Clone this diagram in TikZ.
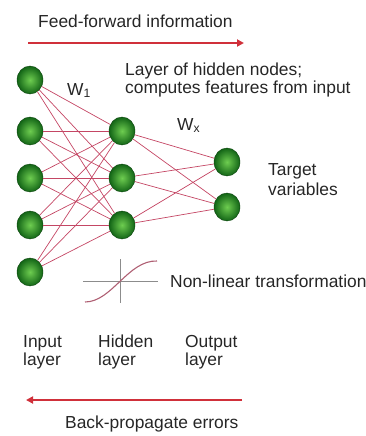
\documentclass[tikz,border=0pt]{standalone}
\usepackage{fontspec}
\setmainfont{Liberation Sans}
\usepackage{tikz}
\usetikzlibrary{shapes,arrows.meta,positioning}
\definecolor{linkred}{RGB}{196,70,100}
\definecolor{arrowred}{RGB}{208,48,58}
\definecolor{nodedark}{RGB}{18,100,22}
\definecolor{nodelight}{RGB}{110,205,80}
\definecolor{curvepink}{RGB}{175,95,115}

\begin{document}
\begin{tikzpicture}
  [
    x=1pt, y=-1pt,
    Neuron/.style={ellipse, draw=nodedark!70!black, inner color=nodelight, outer color=nodedark, minimum width=26pt, minimum height=28pt, inner sep=0pt},
    Txt/.style={anchor=base west, inner sep=0pt, text=black!85, font=\fontsize{17.4}{20}\selectfont},
    Link/.style={draw=linkred, line width=0.7pt},
    Flow/.style={draw=arrowred, line width=2.4pt, -{Triangle[length=7pt,width=7pt]}}
  ]
  \useasboundingbox (0,0) rectangle (366,436);

  % Nodes
  \node[Neuron] (i1) at(30, 80) {};
  \node[Neuron] (i2) at(30, 131) {};
  \node[Neuron] (i3) at(30, 178) {};
  \node[Neuron] (i4) at(30, 225) {};
  \node[Neuron] (i5) at(30, 272) {};

  \node[Neuron] (h1) at(122, 131) {};
  \node[Neuron] (h2) at(122, 178) {};
  \node[Neuron] (h3) at(122, 225) {};

  \node[Neuron] (o1) at(227, 162) {};
  \node[Neuron] (o2) at(227, 207) {};

  % Lines
  \foreach \i in {1,...,5}
    \foreach \h in {1,2,3}
      \path [Link] (i\i) -- (h\h);
  \foreach \h in {1,2,3}
    \foreach \o in {1,2}
      \path [Link] (h\h) -- (o\o);

  % Flow arrows
  \coordinate (ffL) at (28, 43);
  \coordinate (ffR) at (244, 43);
  \coordinate (bpL) at (26, 400);
  \coordinate (bpR) at (242, 400);
  \path [Flow] (ffL) -- (ffR);
  \path [Flow] (bpR) -- (bpL);

  % Sigmoid
  \draw [black!45, line width=1pt] (83, 281) -- (158, 281);
  \draw [black!45, line width=1pt] (120, 259) -- (120, 303);
  \draw [curvepink, line width=1.1pt] (85, 302) .. controls (112, 302) and (128, 260) .. (157, 261);

  % Labels
  \node[Txt] (ff) at (38, 28) {Feed-forward information};
  \node[Txt] (hid1) at (125, 75) {Layer of hidden nodes;};
  \node[Txt] (hid2) at (125, 93) {computes features from input};
  \node[Txt] (w1) at (67, 95) {W\textsubscript{1}};
  \node[Txt] (wx) at (177, 130) {W\textsubscript{x}};
  \node[Txt] (tv1) at (268, 175) {Target};
  \node[Txt] (tv2) at (268, 195) {variables};
  \node[Txt] (nl) at (170, 287) {Non-linear transformation};
  \node[Txt] (in1) at (23, 347) {Input};
  \node[Txt] (in2) at (23, 365) {layer};
  \node[Txt] (hl1) at (98, 347) {Hidden};
  \node[Txt] (hl2) at (98, 365) {layer};
  \node[Txt] (ol1) at (185, 347) {Output};
  \node[Txt] (ol2) at (185, 365) {layer};
  \node[Txt] (bp) at (65, 428) {Back-propagate errors};

\end{tikzpicture}
\end{document}
